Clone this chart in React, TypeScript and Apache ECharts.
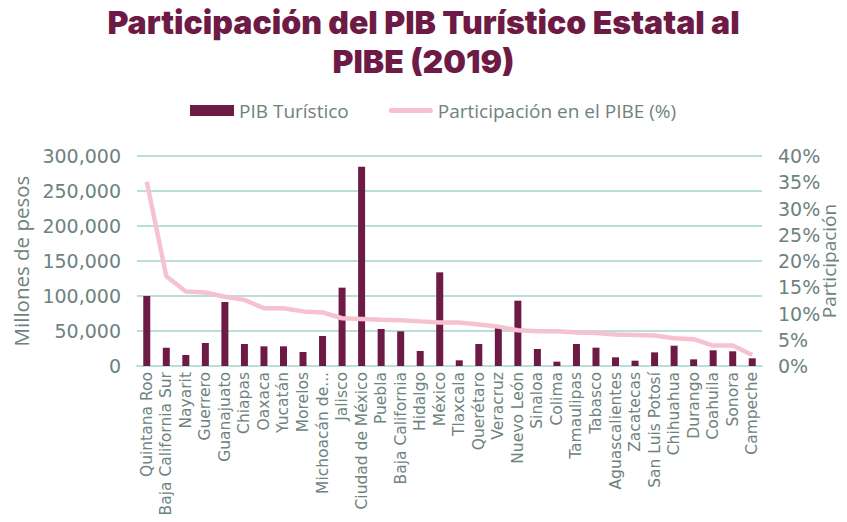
import React, { useEffect, useRef } from "react";
import * as echarts from "echarts";

const categories = [
  "Quintana Roo", "Baja California Sur", "Nayarit", "Guerrero", "Guanajuato",
  "Chiapas", "Oaxaca", "Yucatán", "Morelos", "Michoacán de...", "Jalisco",
  "Ciudad de México", "Puebla", "Baja California", "Hidalgo", "México",
  "Tlaxcala", "Querétaro", "Veracruz", "Nuevo León", "Sinaloa", "Colima",
  "Tamaulipas", "Tabasco", "Aguascalientes", "Zacatecas", "San Luis Potosí",
  "Chihuahua", "Durango", "Coahuila", "Sonora", "Campeche",
];

const pibTuristico = [
  100000, 26100, 15700, 32900, 91400, 31400, 28100, 28100, 20000, 42900, 111900,
  284800, 52900, 49500, 21400, 133800, 8100, 31400, 58600, 93300, 24300, 6200,
  31400, 26200, 12400, 7600, 19500, 29000, 9500, 22400, 21000, 11000,
];

const participacion = [
  35.1, 17.1, 14.2, 14.0, 13.2, 12.6, 11.0, 11.0, 10.4, 10.2, 9.1,
  8.95, 8.8, 8.7, 8.5, 8.3, 8.3, 7.9, 7.5, 6.8, 6.6, 6.6,
  6.4, 6.3, 6.0, 5.9, 5.8, 5.3, 5.1, 3.9, 3.9, 2.1,
];

const titleLines = ["Participación del PIB Turístico Estatal al", "PIBE (2019)"];

const leftTicks = { min: 0, max: 300000, interval: 50000 };
const rightTicks = { min: 0, max: 40, interval: 5 };

const GRAY = "#6e827e";
const MAROON = "#6d1b45";
const PINK = "#f7c2cf";
const GRID = "#bcdedb";
const FONT = "Open Sans";
const WIDE = "DejaVu Sans";

export default function App() {
  const ref = useRef<HTMLDivElement>(null);
  useEffect(() => {
    if (!ref.current) return;
    const chart = echarts.init(ref.current, undefined, { renderer: "svg" });
    const titleStyle = {
      color: MAROON,
      fontSize: 32,
      fontWeight: 900,
      fontFamily: "Inter",
      lineHeight: 34,
    };
    chart.setOption({
      animation: false,
      backgroundColor: "#ffffff",
      title: [
        { text: titleLines[0], left: "center", top: 5, padding: 0, textStyle: titleStyle },
        { text: titleLines[1], left: "center", top: 44, padding: 0, textStyle: titleStyle },
      ],
      legend: {
        top: 96,
        left: 185,
        itemGap: 40,
        itemWidth: 44,
        itemHeight: 11,
        textStyle: { color: GRAY, fontSize: 19, fontFamily: FONT },
        data: [
          { name: "PIB Turístico", icon: "rect" },
          {
            name: "Participación en el PIBE (%)",
            icon: "path://M2.5,0 L41.5,0 A2.5,2.5 0 0 1 41.5,5 L2.5,5 A2.5,2.5 0 0 1 2.5,0 Z",
            itemStyle: { color: PINK },
          },
        ],
      },
      grid: { left: 137, right: 85, top: 156, bottom: 156, outerBoundsMode: "none" },
      xAxis: {
        type: "category",
        data: categories,
        axisLine: { show: true, lineStyle: { color: GRID, width: 2 } },
        axisTick: { show: false },
        axisLabel: {
          rotate: 90,
          interval: 0,
          color: GRAY,
          fontSize: 15.5,
          fontFamily: WIDE,
          margin: 6,
        },
      },
      yAxis: [
        {
          type: "value",
          ...leftTicks,
          name: "Millones de pesos",
          nameLocation: "middle",
          nameRotate: 90,
          nameGap: 106,
          nameMoveOverlap: false,
          nameTextStyle: { color: GRAY, fontSize: 20.5, fontFamily: FONT },
          axisLine: { show: false },
          axisTick: { show: false },
          splitLine: { lineStyle: { color: GRID, width: 2 } },
          axisLabel: {
            color: GRAY,
            fontSize: 19,
            fontFamily: WIDE,
            margin: 16,
            formatter: (v: number) => v.toLocaleString("en-US"),
          },
        },
        {
          type: "value",
          ...rightTicks,
          position: "right",
          name: "Participación",
          nameLocation: "middle",
          nameRotate: 90,
          nameGap: 57,
          nameMoveOverlap: false,
          nameTextStyle: { color: GRAY, fontSize: 19, fontFamily: FONT },
          axisLine: { show: false },
          axisTick: { show: false },
          splitLine: { show: false },
          axisLabel: {
            color: GRAY,
            fontSize: 19,
            fontFamily: WIDE,
            margin: 16,
            formatter: (v: number) => v + "%",
          },
        },
      ],
      series: [
        {
          name: "PIB Turístico",
          type: "bar",
          data: pibTuristico,
          barWidth: 7,
          itemStyle: { color: MAROON },
          yAxisIndex: 0,
        },
        {
          name: "Participación en el PIBE (%)",
          type: "line",
          data: participacion,
          yAxisIndex: 1,
          symbol: "none",
          lineStyle: { color: PINK, width: 4.5 },
          itemStyle: { color: PINK },
        },
      ],
    });
    return () => chart.dispose();
  }, []);
  return <div ref={ref} style={{ width: 847, height: 522, margin: -8 }} />;
}
